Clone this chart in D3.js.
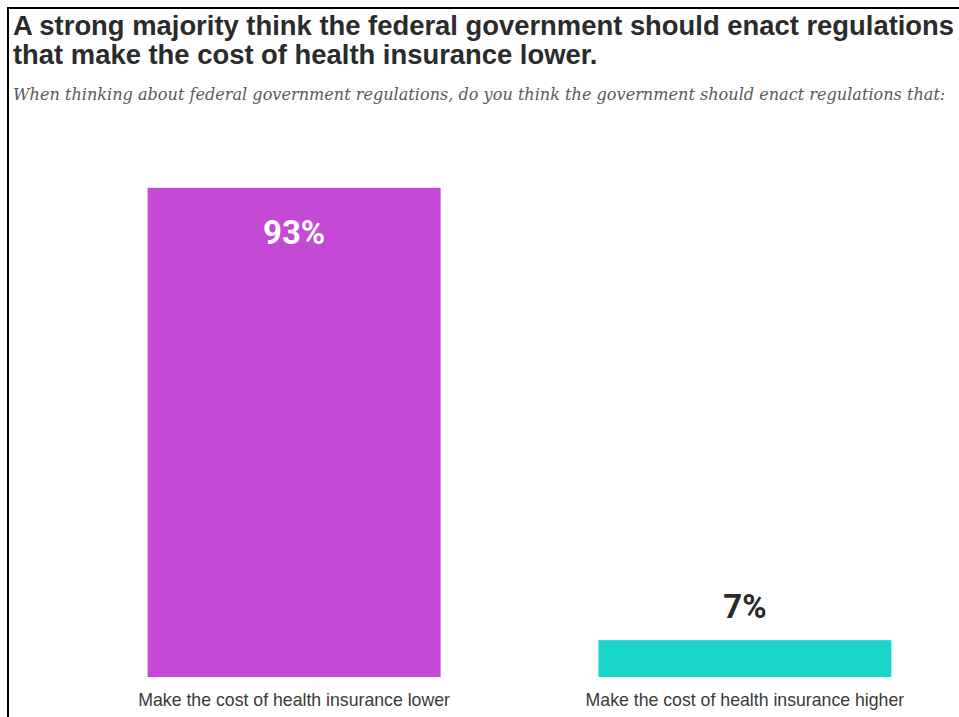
<!DOCTYPE html>
<html>
<head>
<meta charset="utf-8">
<script src="https://cdn.jsdelivr.net/npm/d3@7"></script>
<style>
  html, body { margin: 0; padding: 0; background: #fff; }
  svg { display: block; }
</style>
</head>
<body>
<svg id="chart" width="959" height="717"></svg>
<script>
// Survey answers and their shares (%)
const categories = ["Make the cost of health insurance lower", "Make the cost of health insurance higher"];
const values = [93, 7];
const barColors = ["#c44ad6", "#1bd6cc"];

const titleLines = [
  "A strong majority think the federal government should enact regulations",
  "that make the cost of health insurance lower."
];
const subtitle = "When thinking about federal government regulations, do you think the government should enact regulations that:";

const W = 959, H = 717;
const svg = d3.select("#chart");

// Frame: left and top rules
svg.append("line").attr("x1", 8).attr("x2", 8).attr("y1", 7).attr("y2", H)
  .attr("stroke", "#000").attr("stroke-width", 2);
svg.append("line").attr("x1", 7).attr("x2", W).attr("y1", 8).attr("y2", 8)
  .attr("stroke", "#000").attr("stroke-width", 2);

// Heading
svg.append("g").selectAll("text").data(titleLines).join("text")
  .attr("x", 13)
  .attr("y", (d, i) => 35 + i * 29)
  .attr("font-family", "Arial, 'Liberation Sans', sans-serif")
  .attr("font-weight", "bold")
  .attr("font-size", 27.4)
  .attr("fill", "#2b2b2b")
  .text(d => d);

svg.append("text")
  .attr("x", 13).attr("y", 100)
  .attr("font-family", "'DejaVu Serif', 'Liberation Serif', serif")
  .attr("font-style", "italic")
  .attr("font-size", 16.1)
  .attr("fill", "#5a5a5a")
  .text(subtitle);

// Scales
const x = d3.scaleBand().domain(categories).range([80, 959])
  .paddingInner(0.35).paddingOuter(0.15);
const y = d3.scaleLinear().domain([0, 100]).range([677, 151]);

const data = categories.map((c, i) => ({ c, v: values[i], color: barColors[i] }));

svg.append("g").selectAll("rect").data(data).join("rect")
  .attr("x", d => x(d.c))
  .attr("width", x.bandwidth())
  .attr("y", d => y(d.v))
  .attr("height", d => y(0) - y(d.v))
  .attr("fill", d => d.color);

// Value labels: inside the tall bar, above the short one
svg.append("g").selectAll("text").data(data).join("text")
  .attr("x", d => x(d.c) + x.bandwidth() / 2)
  .attr("y", d => (y(0) - y(d.v) > 80) ? y(d.v) + 56 : y(d.v) - 22)
  .attr("text-anchor", "middle")
  .attr("font-family", "Roboto, Arial, sans-serif")
  .attr("font-weight", "bold")
  .attr("font-size", 33)
  .attr("fill", d => (y(0) - y(d.v) > 80) ? "#fff" : "#2b2b2b")
  .text(d => d.v + "%");

// Category axis labels
const xAxis = d3.axisBottom(x).tickSize(0).tickPadding(0);
const gx = svg.append("g").attr("transform", `translate(0,${y(0)})`).call(xAxis);
gx.select(".domain").remove();
gx.selectAll("text")
  .attr("y", 0).attr("dy", 0)
  .attr("transform", "translate(0,29)")
  .attr("font-family", "Arial, 'Liberation Sans', sans-serif")
  .attr("font-size", 17.7)
  .attr("fill", "#3a3a3a");
</script>
</body>
</html>
